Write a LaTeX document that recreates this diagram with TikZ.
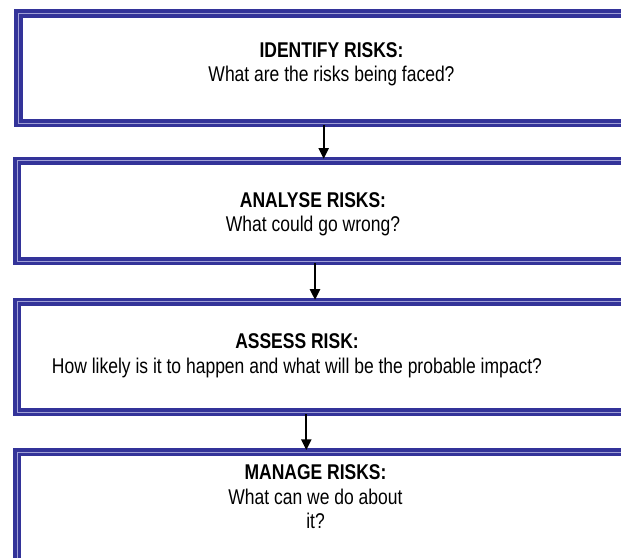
\documentclass[tikz,border=0pt]{standalone}
\usepackage{fontspec}
\setmainfont[FakeStretch=0.82]{Liberation Sans}
\usepackage{tikz}
\usetikzlibrary{arrows.meta,fit}
\definecolor{boxblue}{RGB}{51,51,153}
\definecolor{boxline}{RGB}{160,160,215}
\tikzstyle{riskbox}=[draw=boxblue,line width=2.9pt,double=boxline,double distance=0.6pt,inner sep=0pt]
\tikzstyle{risktext}=[font=\fontsize{16}{18.4}\selectfont,align=center,anchor=base,inner sep=0pt]
\tikzstyle{flow} = [draw,line width=1.5pt,-{Triangle[length=8pt,width=7.5pt]}]

\begin{document}
\begin{tikzpicture}[x=0.75pt,y=-0.75pt]
    \useasboundingbox (0,0) rectangle (621,557);
    % First we draw the boxes
    \foreach \name/\lft/\top/\bot in {b1/18.7/13.3/123.2, b2/17/160.8/261.2, b3/17/301.8/412.2, b4/17/452/620}
        \node[riskbox,fit={(\lft,\top) (660,\bot)}] (\name) {};
    % Texts inside the boxes (placed at the baseline of the last line)
    \node[risktext] (t1) at (331.5,81.7) {\textbf{IDENTIFY RISKS:}\\What are the risks being faced?};
    \node[risktext] (t2) at (313,231.7) {\textbf{ANALYSE RISKS:}\\What could go wrong?};
    \node[risktext] (t3) at (297,373.3) {\textbf{ASSESS RISK:}\\How likely is it to happen and what will be the probable impact?};
    \node[risktext] (t4) at (315.5,528.7) {\textbf{MANAGE RISKS:}\\What can we do about\\it?};
    % Connect boxes with arrows
    \foreach \source/\dest/\ax in {b1/b2/323.7, b2/b3/315, b3/b4/306.3}{
        \coordinate (x\source) at (\ax,0);
        \path[flow] (x\source |- \source.south) -- (x\source |- \dest.north);
    }
\end{tikzpicture}
\end{document}
